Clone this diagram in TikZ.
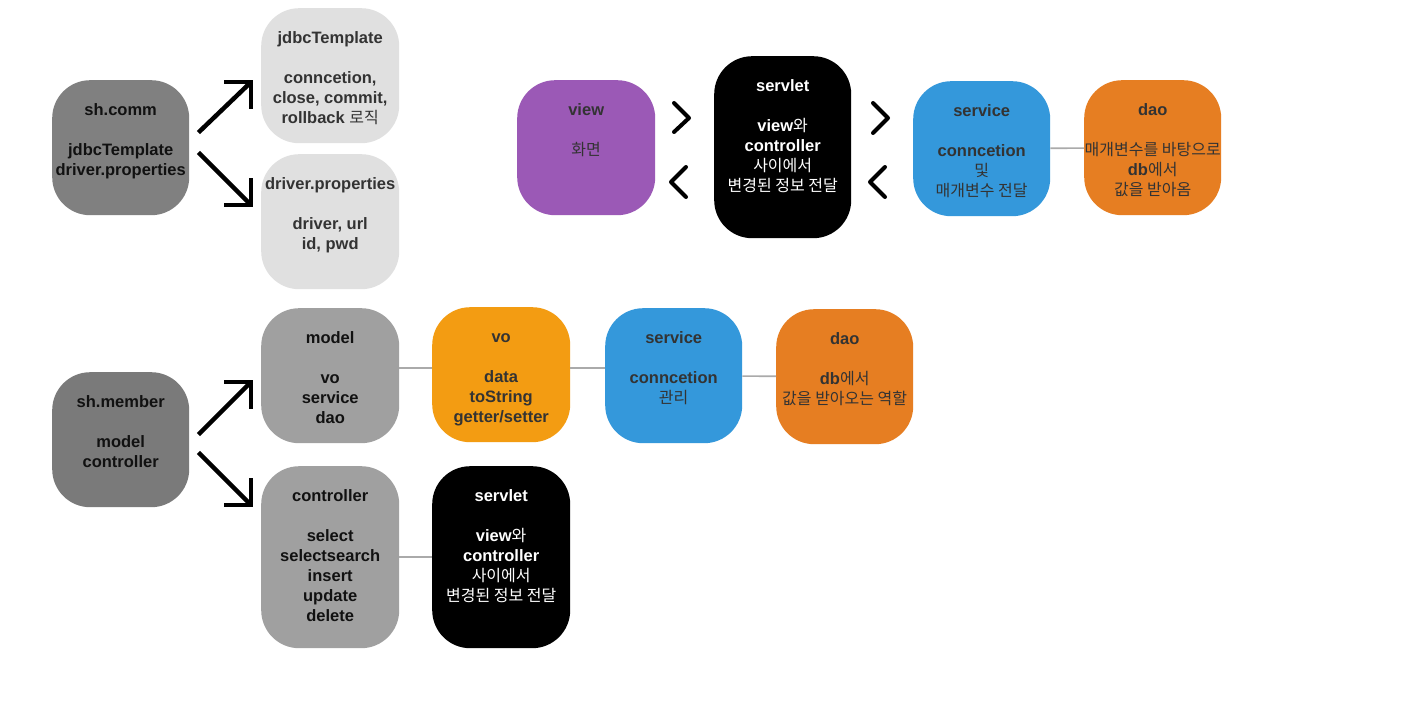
\documentclass[tikz,border=0pt]{standalone}
\usepackage{fontspec}
\setmainfont{Liberation Sans}
\newfontfamily\krf[Scale=0.97]{Noto Sans CJK KR}
\newcommand\ko[1]{{\krf\mdseries #1}}
\definecolor{cdark}{HTML}{808080}
\definecolor{cdarkb}{HTML}{7A7A7A}
\definecolor{clight}{HTML}{E0E0E0}
\definecolor{cmid}{HTML}{A0A0A0}
\definecolor{cpurple}{HTML}{9B59B6}
\definecolor{cblue}{HTML}{3498DB}
\definecolor{corange}{HTML}{E67E22}
\definecolor{cyellow}{HTML}{F39C12}
\definecolor{ctext}{HTML}{333333}
\definecolor{ctextd}{HTML}{111111}
\definecolor{clink}{HTML}{AAAAAA}
\tikzset{
  box/.style={draw=none, rectangle, rounded corners=38pt, inner sep=0pt},
  txt/.style={align=center, inner sep=0pt, font=\fontsize{16.5}{20}\selectfont\bfseries},
  link/.style={draw=clink, line width=1.6pt},
  bigarrow/.style={line width=4.5pt, line cap=rect, line join=miter, black},
  chev/.style={line width=4pt, line cap=round, line join=round, black}
}
\newcommand\bx[8]{%
  \node[box, fill=#6, minimum width=#4pt, minimum height=#5pt, anchor=north west] (#1) at (#2,#3) {};
  \node[txt, text=#7, anchor=north] (#1t) at ([yshift=-19pt]#1.north) {\rule{0pt}{16pt}#8};
}
\begin{document}
\begin{tikzpicture}[x=1pt,y=-1pt]
\useasboundingbox (0,0) rectangle (1428,717);
\fill[white] (0,0) rectangle (1428,717);

% top-left group
\bx{shcomm}{52}{80}{137}{135}{cdark}{ctextd}{sh.comm\\[20pt]jdbcTemplate\\driver.properties}
\bx{jdbc}{261}{8}{138}{135}{clight}{ctext}{jdbcTemplate\\[20pt]conncetion,\\close, commit,\\rollback \ko{로직}}
\bx{drvp}{261}{154}{138}{135}{clight}{ctext}{driver.properties\\[20pt]driver, url\\id, pwd}

% top-right group
\bx{view}{517}{80}{138}{135}{cpurple}{ctext}{view\\[20pt]\ko{화면}}
\bx{servA}{714}{56}{137}{182}{black}{white}{servlet\\[20pt]view\ko{와}\\controller\\\ko{사이에서}\\\ko{변경된 정보 전달}}
\bx{svcA}{913}{81}{137}{135}{cblue}{ctext}{service\\[20pt]conncetion\\\ko{및}\\\ko{매개변수 전달}}
\bx{daoA}{1084}{80}{137}{135}{corange}{ctext}{dao\\[20pt]\ko{매개변수를 바탕으로}\\db\ko{에서}\\\ko{값을 받아옴}}

% bottom group
\bx{shmem}{52}{372}{137}{135}{cdarkb}{ctextd}{sh.member\\[20pt]model\\controller}
\bx{model}{261}{308}{138}{135}{cmid}{ctextd}{model\\[20pt]vo\\service\\dao}
\bx{vo}{432}{307}{138}{135}{cyellow}{ctext}{vo\\[20pt]data\\toString\\getter/setter}
\bx{svcB}{605}{308}{137}{135}{cblue}{ctext}{service\\[20pt]conncetion\\\ko{관리}}
\bx{daoB}{776}{309}{137}{135}{corange}{ctext}{dao\\[20pt]db\ko{에서}\\\ko{값을 받아오는 역할}}
\bx{ctrl}{261}{466}{138}{182}{cmid}{ctextd}{controller\\[20pt]select\\selectsearch\\insert\\update\\delete}
\bx{servB}{432}{466}{138}{182}{black}{white}{servlet\\[20pt]view\ko{와}\\controller\\\ko{사이에서}\\\ko{변경된 정보 전달}}

% plain links
\draw[link] (svcA) -- (daoA);
\draw[link] ([yshift=7.5pt]model.east) -- ([yshift=7.5pt]model.east -| vo.west);
\draw[link] ([yshift=6.5pt]vo.east) -- ([yshift=6.5pt]vo.east -| svcB.west);
\draw[link] (svcB) -- (daoB);
\draw[link] (ctrl) -- (servB);

% big arrows
\coordinate (a1s) at (200,131); \coordinate (a1e) at (251,82);
\coordinate (a2s) at (200,154); \coordinate (a2e) at (251,205);
\coordinate (a3s) at (200,433); \coordinate (a3e) at (251,382);
\coordinate (a4s) at (200,454); \coordinate (a4e) at (251,505);
\draw[bigarrow] (a1s) -- ([shift={(-2,2)}]a1e);
\draw[bigarrow] ([xshift=-25pt]a1e) -- (a1e) -- ([yshift=-25pt]a1e);
\draw[bigarrow] (a2s) -- ([shift={(-2,-2)}]a2e);
\draw[bigarrow] ([xshift=-25pt]a2e) -- (a2e) -- ([yshift=25pt]a2e);
\draw[bigarrow] (a3s) -- ([shift={(-2,2)}]a3e);
\draw[bigarrow] ([xshift=-25pt]a3e) -- (a3e) -- ([yshift=-25pt]a3e);
\draw[bigarrow] (a4s) -- ([shift={(-2,-2)}]a4e);
\draw[bigarrow] ([xshift=-25pt]a4e) -- (a4e) -- ([yshift=25pt]a4e);

% chevrons
\draw[chev] (674,103) -- (689,118) -- (674,132);
\draw[chev] (686,167) -- (671,182) -- (686,197);
\draw[chev] (873,103) -- (888,118) -- (873,133);
\draw[chev] (885,167) -- (870,182) -- (885,197);
\end{tikzpicture}
\end{document}
